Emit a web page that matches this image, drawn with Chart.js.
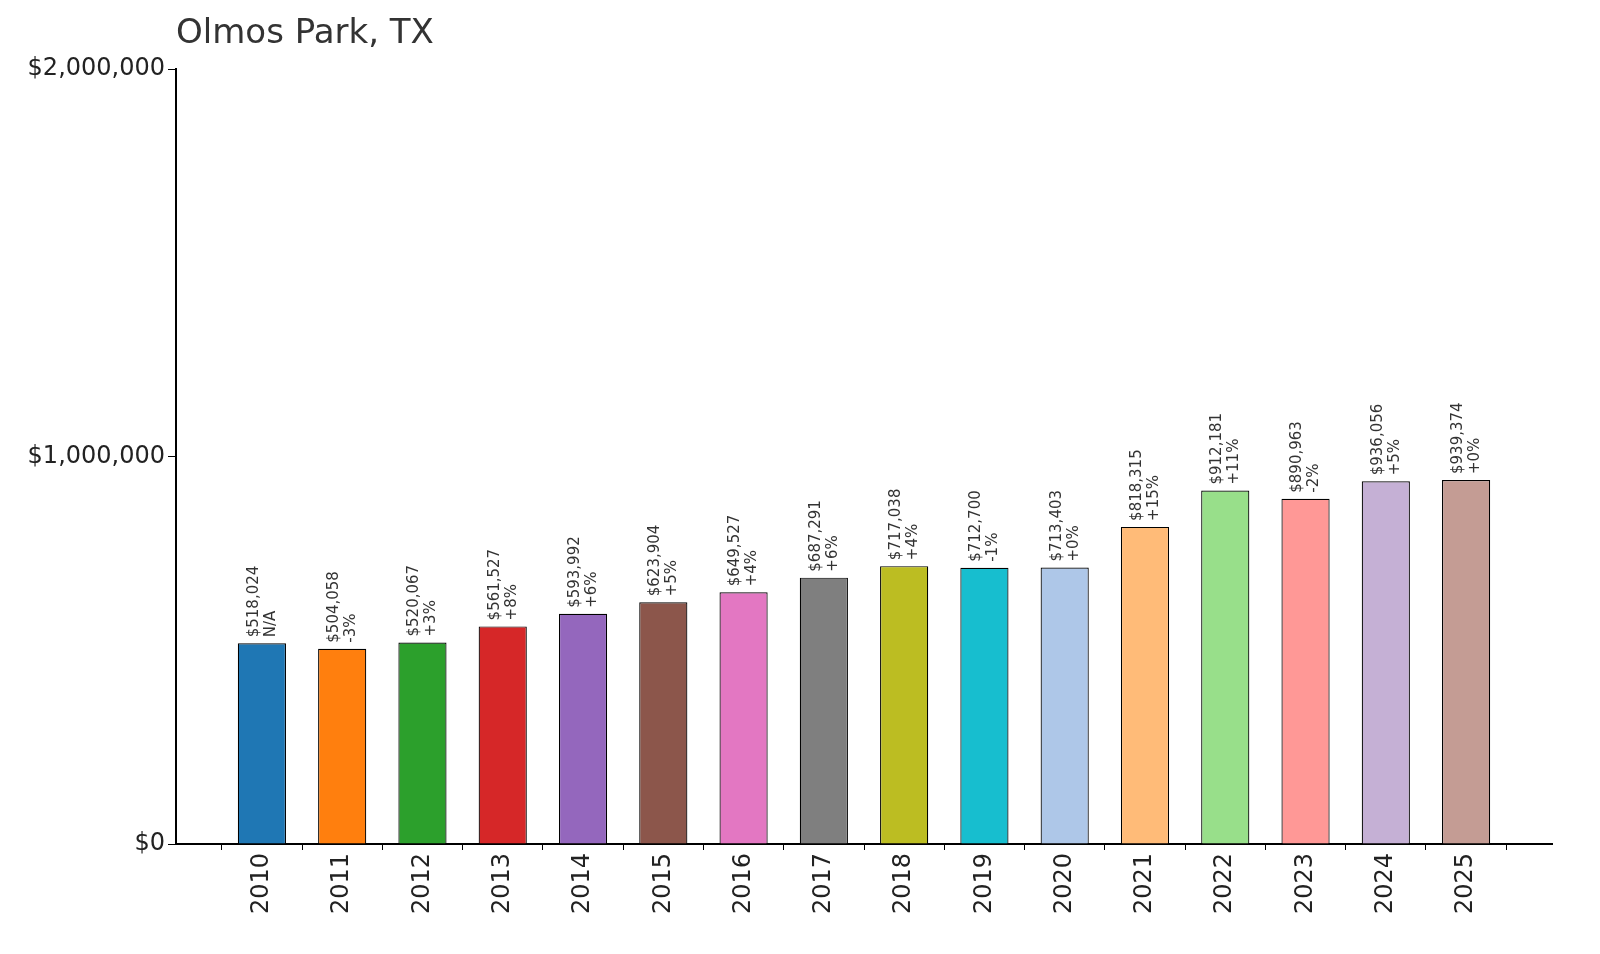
<!DOCTYPE html>
<html>
<head>
<meta charset="utf-8">
<script src="https://cdn.jsdelivr.net/npm/chart.js@4"></script>
<style>body{margin:0;background:#fff}</style>
</head>
<body>
<canvas id="grafico" width="1600" height="954"></canvas>
<script>
// datos
const anios = ["2010","2011","2012","2013","2014","2015","2016","2017","2018","2019","2020","2021","2022","2023","2024","2025"];
const valores = [518024,504058,520067,561527,593992,623904,649527,687291,717038,712700,713403,818315,912181,890963,936056,939374];
const cambios = ["N/A","-3%","+3%","+8%","+6%","+5%","+4%","+6%","+4%","-1%","+0%","+15%","+11%","-2%","+5%","+0%"];
const colores = ['#1f77b4','#ff7f0e','#2ca02c','#d62728','#9467bd','#8c564b','#e377c2','#7f7f7f',
    '#bcbd22','#17becf','#aec7e8','#ffbb78','#98df8a','#ff9896','#c5b0d5','#c49c94'];
const ticksY = [0, 1000000, 2000000];

const fuente = 'DejaVu Sans';

const etiquetas = {
    id: 'etiquetas',
    afterDatasetsDraw(chart) {
        const ctx = chart.ctx;
        const meta = chart.getDatasetMeta(0);
        ctx.save();
        ctx.fillStyle = '#333';
        ctx.font = '15px ' + fuente;
        ctx.textAlign = 'left';
        ctx.textBaseline = 'middle';
        meta.data.forEach((bar, i) => {
            ctx.save();
            ctx.translate(bar.x, bar.y - 6);
            ctx.rotate(-Math.PI / 2);
            ctx.fillText('$' + valores[i].toLocaleString('en-US'), 0, -8);
            ctx.fillText(cambios[i], 0, 9);
            ctx.restore();
        });
        // titulo
        ctx.font = '34px ' + fuente;
        ctx.textBaseline = 'alphabetic';
        ctx.fillText('Olmos Park, TX', 176, 43);
        ctx.restore();
    }
};

new Chart(document.getElementById('grafico'), {
    type: 'bar',
    data: {
        datasets: [{
            data: valores.map((v, i) => ({ x: i, y: v })),
            backgroundColor: colores,
            borderColor: '#000',
            borderWidth: 1.2,
            categoryPercentage: 1,
            barPercentage: 0.6
        }]
    },
    options: {
        responsive: false,
        animation: false,
        layout: { padding: { top: 69, right: 48, left: 0, bottom: 0 } },
        plugins: { legend: { display: false }, tooltip: { enabled: false } },
        scales: {
            y: {
                min: 0, max: 2000000,
                afterFit: s => { s.width = 176; },
                afterBuildTicks: s => { s.ticks = ticksY.map(v => ({ value: v })); },
                border: { color: '#000', width: 2 },
                grid: { drawOnChartArea: false, color: '#000', tickLength: 8 },
                ticks: {
                    color: '#222',
                    font: { family: fuente, size: 24 },
                    callback: v => '$' + v.toLocaleString('en-US')
                }
            },
            x: {
                type: 'linear',
                offset: false,
                min: -1.07, max: 16.07,
                afterFit: s => { s.height = 110; },
                afterBuildTicks: s => { s.ticks = anios.map((a, i) => ({ value: i })); },
                border: { color: '#000', width: 2 },
                grid: { drawOnChartArea: false, color: '#000', tickLength: 6 },
                ticks: {
                    color: '#222',
                    maxRotation: 90, minRotation: 90,
                    font: { family: fuente, size: 24 },
                    callback: v => anios[v]
                }
            }
        }
    },
    plugins: [etiquetas]
});
</script>
</body>
</html>
